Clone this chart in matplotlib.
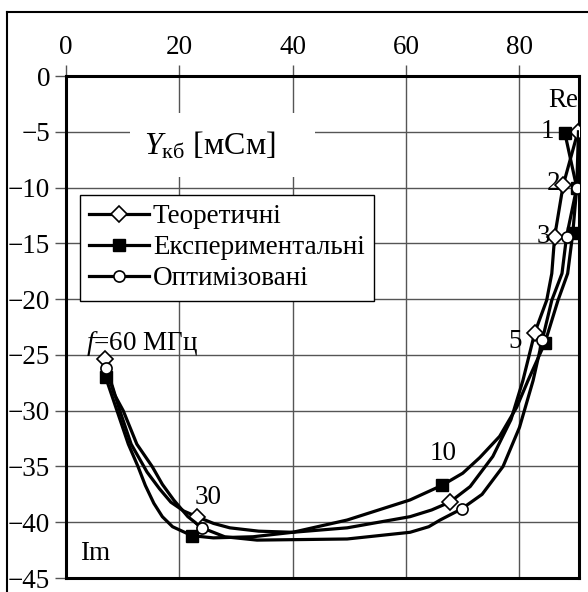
import matplotlib.pyplot as plt
from matplotlib.patches import Rectangle

plt.rcParams['font.family'] = ['Liberation Serif', 'DejaVu Serif']
plt.rcParams['mathtext.fontset'] = 'custom'
plt.rcParams['mathtext.rm'] = 'Liberation Serif'
plt.rcParams['mathtext.it'] = 'Liberation Serif:italic'

# curves (Re, Im in mSm); markers sit at f = 60, 30, 10, 5, 3, 2, 1 MHz
theor_re = [6.9, 8.0, 9.5, 11.5, 14.3, 16.5, 18.5, 20.8, 23.1, 26.0, 28.9, 34.0, 40.0, 49.6, 60.7, 64.5, 67.7,
            71.3, 75.3, 78.5, 80.6, 82.7, 84.8, 85.7, 86.2, 87.7, 90.3]
theor_im = [-25.4, -27.5, -30.0, -33.0, -35.5, -37.0, -38.2, -39.0, -39.5, -40.1, -40.5, -40.8, -40.9, -40.5, -39.5, -38.9, -38.2,
            -36.8, -34.1, -30.8, -27.3, -23.0, -20.1, -17.7, -14.4, -9.8, -5.0]
theor_mk = [0, 8, 16, 21, 24, 25, 26]

exper_re = [7.0, 8.0, 9.0, 11.0, 12.7, 14.0, 15.5, 17.0, 18.8, 22.2, 26.0, 33.0, 40.0, 49.6, 60.7, 66.3,
            70.0, 73.0, 76.5, 79.5, 81.5, 84.5, 86.8, 88.5, 89.4, 90.1, 88.0]
exper_im = [-27.0, -28.5, -30.0, -33.0, -35.0, -36.7, -38.3, -39.5, -40.4, -41.2, -41.4, -41.3, -40.9, -39.8, -38.0, -36.7,
            -35.6, -34.2, -32.3, -29.7, -27.3, -23.9, -20.1, -17.7, -14.1, -10.0, -5.1]
exper_mk = [0, 9, 15, 21, 24, 25, 26]

optim_re = [7.1, 8.5, 10.1, 12.5, 15.2, 17.0, 19.0, 21.5, 24.0, 28.0, 33.7, 49.6, 60.7, 64.0, 66.0, 69.8,
            73.4, 77.1, 80.0, 82.4, 84.0, 85.7, 87.5, 88.3, 90.1, 90.4]
optim_im = [-26.2, -28.5, -30.0, -33.0, -35.0, -36.6, -38.0, -39.5, -40.5, -41.3, -41.6, -41.5, -40.9, -40.4, -39.8, -38.8,
            -37.5, -35.0, -31.5, -27.3, -23.7, -20.1, -17.7, -14.4, -10.0, -5.0]
optim_mk = [0, 8, 15, 20, 23, 24]

freq_labels = ['1', '2', '3', '5', '10', '30']
freq_pos = [(85.0, -5.0), (86.0, -9.6), (84.3, -14.4), (79.2, -23.8), (66.5, -33.8), (25.0, -37.8)]

fig = plt.figure(figsize=(5.88, 5.92), dpi=100)
ax = fig.add_axes([0.1122, 0.0236, 0.8725, 0.848])

ax.plot(theor_re, theor_im, color='black', lw=2.3, marker='D', ms=8.5, mfc='white', mec='black',
        mew=1.2, markevery=theor_mk, label='Теоретичні', zorder=3)
ax.plot(exper_re, exper_im, color='black', lw=2.3, marker='s', ms=8.5, mfc='black', mec='black',
        markevery=exper_mk, label='Експериментальні', zorder=3)
ax.plot(optim_re, optim_im, color='black', lw=2.3, marker='o', ms=8, mfc='white', mec='black',
        mew=1.2, markevery=optim_mk, label='Оптимізовані', zorder=3)

ax.set_xlim(0, 90.5)
ax.set_ylim(-45, 0)
ax.set_xticks([0, 20, 40, 60, 80])
ax.set_yticks(range(-45, 1, 5))
ax.set_yticklabels(['\u2212%d' % -v if v else '0' for v in range(-45, 1, 5)])
ax.xaxis.tick_top()
ax.tick_params(labelsize=19.5, colors='#555555', labelcolor='black', length=8, width=1, direction='out')
ax.grid(True, color='#555555', lw=1)
for s in ax.spines.values():
    s.set_linewidth(2.2)

# white patch behind the axis title
ax.add_patch(Rectangle((0.125, 0.799), 0.36, 0.127, transform=ax.transAxes,
                       facecolor='white', edgecolor='none', zorder=2.5))
ax.text(0.153, 0.862, r'$\mathit{Y}_{\mathrm{кб}}$ [мСм]', transform=ax.transAxes,
        fontsize=23, va='center', ha='left', zorder=4)

ax.text(90.3, -2.2, 'Re', fontsize=19.5, ha='right', va='center', zorder=4)
ax.text(2.5, -42.8, 'Im', fontsize=19.5, ha='left', va='center', zorder=4)
ax.text(3.5, -24.0, r'$\mathit{f}$=60 МГц', fontsize=19.5, ha='left', va='center', zorder=4)
for lab, (px, py) in zip(freq_labels, freq_pos):
    ax.text(px, py, lab, fontsize=19.5, ha='center', va='center', zorder=4)

leg = ax.legend(loc='upper left', bbox_to_anchor=(0.027, 0.763), borderaxespad=0,
                fontsize=19.5, frameon=True, fancybox=False, edgecolor='black',
                framealpha=1, handlelength=2.2, handletextpad=0.15, labelspacing=0.22,
                borderpad=0.35)
leg.get_frame().set_linewidth(1)
leg.set_zorder(5)

# frame round the picture (left and top edges are visible)
fig.add_artist(plt.Line2D([0.012, 0.012], [0, 0.98], color='black', lw=1.5))
fig.add_artist(plt.Line2D([0.012, 1.0], [0.98, 0.98], color='black', lw=1.5))

fig.savefig('out.png', dpi=100)
